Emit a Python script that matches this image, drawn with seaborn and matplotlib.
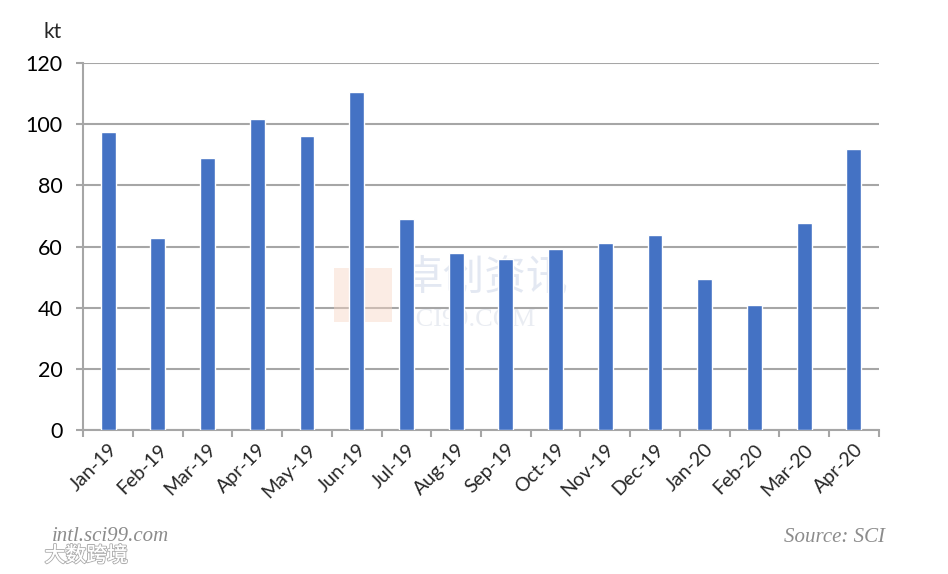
import matplotlib
matplotlib.use("Agg")
import matplotlib.pyplot as plt
import matplotlib.patheffects as pe
import seaborn as sns
import pandas as pd

months = ["Jan-19", "Feb-19", "Mar-19", "Apr-19", "May-19", "Jun-19", "Jul-19", "Aug-19",
          "Sep-19", "Oct-19", "Nov-19", "Dec-19", "Jan-20", "Feb-20", "Mar-20", "Apr-20"]
volume_kt = [97.6, 62.9, 89.1, 101.9, 96.3, 110.7, 69.1, 58.0,
             56.0, 59.3, 61.2, 63.9, 49.5, 40.9, 67.7, 92.0]
y_ticks = [0, 20, 40, 60, 80, 100, 120]
unit_label = "kt"
source_text = "Source: SCI"
site_text = "intl.sci99.com"

df = pd.DataFrame({"month": months, "value": volume_kt})

sns.set_theme(style="white")
plt.rcParams["font.family"] = ["Lato", "Noto Sans CJK SC", "DejaVu Sans"]

fig = plt.figure(figsize=(9.48, 5.74), dpi=100)
ax = fig.add_axes([0.0879, 0.2514, 0.9269 - 0.0879, 0.8897 - 0.2514])

grid_c = "#a6a6a6"

sns.barplot(data=df, x="month", y="value", color="#4472C4", saturation=1,
            width=0.3, ax=ax, zorder=3)

# faint central watermark (between grid and bars)
ax.text(0.424, 0.515, "卓创资讯", fontsize=30, color="#c9d3e6", alpha=0.5, ha="left",
        va="center", family=["Noto Sans CJK SC"], transform=fig.transFigure, zorder=1)
ax.text(0.423, 0.443, "SCI99.COM", fontsize=19, color="#d5dbe6", alpha=0.5, ha="left",
        va="center", family=["Liberation Serif"], transform=fig.transFigure, zorder=1)
ax.add_patch(plt.Rectangle((0.352, 0.439), 0.062, 0.094, transform=fig.transFigure,
                           facecolor="#f8d6c4", alpha=0.45, edgecolor="none", zorder=1))

ax.set_xlim(-0.5, len(months) - 0.5)
ax.set_ylim(0, 120)
ax.set_yticks(y_ticks)
ax.set_yticklabels([str(t) for t in y_ticks], fontsize=15.5, color="#000000")
ax.yaxis.grid(True, color=grid_c, linewidth=1.5)
ax.set_axisbelow(True)
ax.set_xlabel("")
ax.set_ylabel("")

for s in ["top", "right"]:
    ax.spines[s].set_visible(False)
ax.spines["left"].set_color(grid_c)
ax.spines["left"].set_linewidth(1.5)
ax.spines["bottom"].set_color(grid_c)
ax.spines["bottom"].set_linewidth(1.5)

ax.tick_params(axis="y", length=5, width=1.5, color=grid_c, pad=10, left=True)
ax.set_xticks(range(len(months)))
ax.set_xticklabels(months, rotation=45, ha="right", rotation_mode="anchor", fontsize=14)
ax.tick_params(axis="x", which="major", length=0, pad=8)
ax.set_xticks([i - 0.5 for i in range(len(months) + 1)], minor=True)
ax.tick_params(axis="x", which="minor", length=5, width=1.5, color=grid_c, bottom=True)

fig.text(0.0654, 0.944, unit_label, fontsize=15, ha="right", va="center")
fig.text(0.055, 0.065, site_text, fontsize=15, color="#8c8c8c", style="italic",
         family=["Liberation Serif"], ha="left", va="center")
fig.text(0.934, 0.064, source_text, fontsize=15, color="#8c8c8c", style="italic",
         family=["Liberation Serif"], ha="right", va="center")
t = fig.text(0.047, 0.032, "大数跨境", fontsize=15, color="white", ha="left", va="center",
             family=["Noto Sans CJK SC"])
t.set_path_effects([pe.withStroke(linewidth=1.5, foreground="#b0b0b0"), pe.Normal()])

fig.savefig("out.png", dpi=100)
